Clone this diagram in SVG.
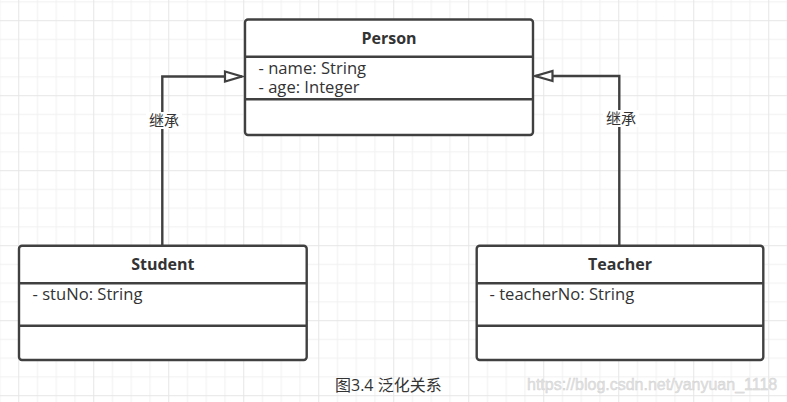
<svg xmlns="http://www.w3.org/2000/svg" width="787" height="402" viewBox="0 0 787 402">
<style>
.box{fill:#fff;stroke:#404040;stroke-width:2.4}
.sep{stroke:#404040;stroke-width:2.4;fill:none}
.title{font-family:"Open Sans","Noto Sans CJK SC",sans-serif;font-size:16px;font-weight:bold;fill:#333;text-anchor:middle}
.attr{font-family:"Open Sans","Noto Sans CJK SC",sans-serif;font-size:16.6px;fill:#333}
.conn{fill:none;stroke:#404040;stroke-width:2.4}
.lbl{font-family:"Noto Sans CJK SC",sans-serif;font-size:15px;fill:#333;text-anchor:middle}
.cap{font-family:"Open Sans","Noto Sans CJK SC",sans-serif;font-size:16px;fill:#333}
.wm{font-family:"Liberation Sans",Arial,sans-serif;font-size:16px;fill:#e2e2e2;stroke:#d0d0d0;stroke-width:0.4}
</style>
<defs>
<pattern id="grid" patternUnits="userSpaceOnUse" x="18.25" y="20.2" width="75" height="75">
<rect x="0" y="0" width="75" height="75" fill="#fff"/>
<rect x="18.75" y="0" width="1" height="75" fill="#f1f1f1"/>
<rect x="37.5" y="0" width="1" height="75" fill="#f1f1f1"/>
<rect x="56.25" y="0" width="1" height="75" fill="#f1f1f1"/>
<rect x="0" y="18.75" width="75" height="1" fill="#f1f1f1"/>
<rect x="0" y="37.5" width="75" height="1" fill="#f1f1f1"/>
<rect x="0" y="56.25" width="75" height="1" fill="#f1f1f1"/>
<rect x="0" y="0" width="1" height="75" fill="#e6e6e6"/>
<rect x="0" y="0" width="75" height="1" fill="#e6e6e6"/>
</pattern>
<marker id="tri" markerUnits="userSpaceOnUse" viewBox="-2 -2 22 14" refX="17" refY="5" markerWidth="22" markerHeight="14" orient="auto">
<path d="M0,0 L17,5 L0,10 Z" fill="#fff" stroke="#404040" stroke-width="2.2"/>
</marker>
</defs>
<rect x="0" y="0" width="787" height="402" fill="url(#grid)"/>

<g id="connectors">
<path class="conn" d="M162.3,245 V76.5 H242" marker-end="url(#tri)"/>
<path class="conn" d="M619.3,245 V76 H535.5" marker-end="url(#tri)"/>
<rect x="146" y="112" width="36" height="17" fill="#fff"/>
<text class="lbl" x="164" y="126">继承</text>
<rect x="603" y="110" width="36" height="17" fill="#fff"/>
<text class="lbl" x="621" y="124">继承</text>
</g>

<g id="person">
<rect class="box" x="245" y="19.5" width="288" height="115.5" rx="3"/>
<path class="sep" d="M245,56.7 H533 M245,99.3 H533"/>
<text class="title" x="389" y="43.5">Person</text>
<text class="attr" x="258.5" y="73.5">- name: String</text>
<text class="attr" x="258.5" y="93">- age: Integer</text>
</g>

<g id="student">
<rect class="box" x="19" y="245.7" width="287.7" height="114.3" rx="3"/>
<path class="sep" d="M19,283.3 H306.7 M19,325.7 H306.7"/>
<text class="title" x="162.8" y="270">Student</text>
<text class="attr" x="32.5" y="300">- stuNo: String</text>
</g>

<g id="teacher">
<rect class="box" x="476.7" y="245.7" width="286.6" height="114.3" rx="3"/>
<path class="sep" d="M476.7,283.3 H763.3 M476.7,325.7 H763.3"/>
<text class="title" x="620" y="270">Teacher</text>
<text class="attr" x="489.5" y="300">- teacherNo: String</text>
</g>

<g id="caption">
<text class="cap" x="335" y="391">图3.4 泛化关系</text>
<text class="wm" x="527" y="389.5">https://blog.csdn.net/yanyuan_1118</text>
</g>
</svg>
